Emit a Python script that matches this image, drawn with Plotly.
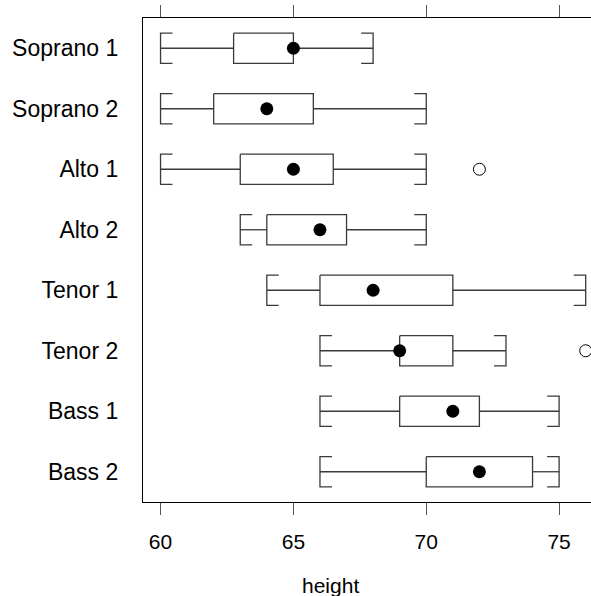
import plotly.graph_objects as go

groups = ["Soprano 1", "Soprano 2", "Alto 1", "Alto 2", "Tenor 1", "Tenor 2", "Bass 1", "Bass 2"]
lower = [60, 60, 60, 63, 64, 66, 66, 66]
q1 = [62.75, 62, 63, 64, 66, 69, 69, 70]
median = [65, 64, 65, 66, 68, 69, 71, 72]
q3 = [65, 65.75, 66.5, 67, 71, 71, 72, 74]
upper = [68, 70, 70, 70, 76, 73, 75, 75]
outlier_group = ["Alto 1", "Tenor 2"]
outlier_value = [72, 76]
x_ticks = [60, 65, 70, 75]

LINE = "#3a3a3a"
HALF = 0.25     # half box height (y units)
CAP = 0.45      # bracket arm length (x units)
FONT = "Liberation Sans, Arial, sans-serif"

pos = {g: i + 1 for i, g in enumerate(groups)}

fig = go.Figure()

bx, by, wx, wy = [], [], [], []
for g, lo, a, m, b, hi in zip(groups, lower, q1, median, q3, upper):
    y = pos[g]
    # box
    bx += [a, b, b, a, a, None]
    by += [y - HALF, y - HALF, y + HALF, y + HALF, y - HALF, None]
    # whiskers
    wx += [lo, a, None, b, hi, None]
    wy += [y, y, None, y, y, None]
    # lower bracket
    wx += [lo + CAP, lo, lo, lo + CAP, None]
    wy += [y - HALF, y - HALF, y + HALF, y + HALF, None]
    # upper bracket
    wx += [hi - CAP, hi, hi, hi - CAP, None]
    wy += [y - HALF, y - HALF, y + HALF, y + HALF, None]

fig.add_trace(go.Scatter(x=wx, y=wy, mode="lines", line=dict(color=LINE, width=1.3),
                         hoverinfo="skip", showlegend=False))
fig.add_trace(go.Scatter(x=bx, y=by, mode="lines", line=dict(color=LINE, width=1.3),
                         hoverinfo="skip", showlegend=False))
fig.add_trace(go.Scatter(x=median, y=[pos[g] for g in groups], mode="markers",
                         marker=dict(color="black", size=13, line=dict(width=0)),
                         showlegend=False))
fig.add_trace(go.Scatter(x=outlier_value, y=[pos[g] for g in outlier_group], mode="markers",
                         marker=dict(symbol="circle-open", color="black", size=12, line=dict(width=1)),
                         showlegend=False))
# dummy trace for top axis
fig.add_trace(go.Scatter(x=[60], y=[1], xaxis="x2", mode="markers",
                         marker=dict(opacity=0), hoverinfo="skip", showlegend=False))

xr = [59.34, 76.2]
fig.update_layout(
    width=591, height=596,
    margin=dict(l=143, r=0, t=18, b=94),
    paper_bgcolor="white", plot_bgcolor="white",
    font=dict(family=FONT, size=21, color="black"),
    xaxis=dict(range=xr, tickvals=x_ticks, ticks="outside", ticklen=12, tickcolor="#555",
               tickwidth=1.2, showline=True, linecolor="black", linewidth=1.3,
               showgrid=False, zeroline=False, ticklabelstandoff=9,
               tickfont=dict(size=21, family=FONT)),
    xaxis2=dict(range=xr, tickvals=x_ticks, ticks="outside", ticklen=12, tickcolor="#555",
                tickwidth=1.2, showline=True, linecolor="black", linewidth=1.3,
                showticklabels=False, overlaying="x", side="top", anchor="y",
                showgrid=False, zeroline=False),
    yaxis=dict(range=[8.5, 0.5], tickvals=[pos[g] for g in groups], ticktext=groups,
               ticks="", showline=True, linecolor="black", linewidth=1.3,
               showgrid=False, zeroline=False, ticklabelstandoff=19,
               tickfont=dict(size=23, family=FONT)),
    annotations=[dict(text="height", xref="paper", yref="paper", x=(330 - 143) / 448,
                      y=-(585 - 502) / 484, xanchor="center", yanchor="middle",
                      showarrow=False, font=dict(size=21, family=FONT))],
)

fig.write_html("out.html")
